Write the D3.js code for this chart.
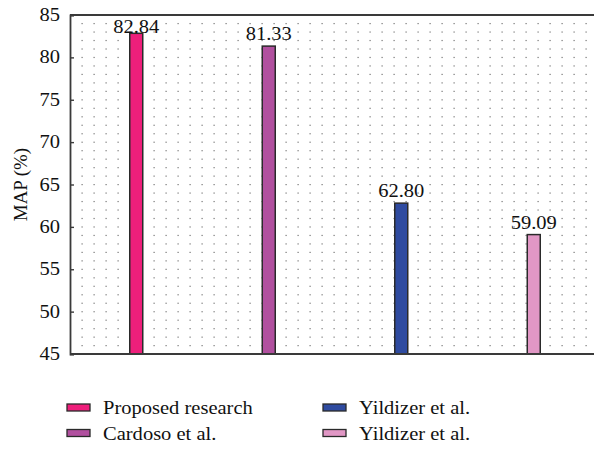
<!DOCTYPE html>
<html>
<head>
<meta charset="utf-8">
<script src="https://cdn.jsdelivr.net/npm/d3@7"></script>
</head>
<body style="margin:0">
<script>
var methods = ["Proposed research", "Cardoso et al.", "Yildizer et al. (1)", "Yildizer et al. (2)"],
    legendLabels = ["Proposed research", "Cardoso et al.", "Yildizer et al.", "Yildizer et al."],
    mapValues = [82.84, 81.33, 62.80, 59.09],
    barColors = ["#ee1f7b", "#b1509f", "#2f4ba0", "#e197c5"],
    yTicks = [45, 50, 55, 60, 65, 70, 75, 80, 85];

var W = 594, H = 449,
    margin = {top: 15, right: -6, bottom: 95, left: 70},
    width = W - margin.left - margin.right,
    height = H - margin.top - margin.bottom,
    FONT = "'Liberation Serif', 'Times New Roman', Tinos, serif",
    fs = 18,
    sx = 1.14;   // the original face is wider than Times

var svg = d3.select("body").append("svg")
    .attr("width", W)
    .attr("height", H)
    .style("font-family", FONT);

var g = svg.append("g")
    .attr("transform", "translate(" + margin.left + "," + margin.top + ")");

var x = d3.scaleBand()
    .domain(methods)
    .range([0, width]);

var y = d3.scaleLinear()
    .domain([45, 85])
    .range([height, 0]);

// helper: text stretched horizontally around its anchor point
function label(sel, px, py, txt, anchor) {
    return sel.append("text")
        .attr("transform", "translate(" + px + "," + py + ") scale(" + sx + ",1)")
        .attr("text-anchor", anchor || "start")
        .style("font-family", FONT)
        .style("font-size", fs + "px")
        .attr("fill", "#111")
        .text(txt);
}

// dotted grid
var dotXs = d3.range(12, width, 12),
    dotYs = d3.range(46, 85, 1);
var dots = g.append("g");
dotYs.forEach(function(v) {
    dots.selectAll(null)
        .data(dotXs)
        .enter()
        .append("rect")
        .attr("x", function(d) { return d - 0.5; })
        .attr("y", y(v) - 0.5)
        .attr("width", 1.2)
        .attr("height", 1.2)
        .attr("fill", "#777");
});

// bars
var barW = 13;
g.selectAll(".bar")
    .data(mapValues)
    .enter()
    .append("rect")
    .attr("x", function(d, i) { return x(methods[i]) + x.bandwidth() / 2 - barW / 2; })
    .attr("y", function(d) { return y(d); })
    .attr("width", barW)
    .attr("height", function(d) { return height - y(d); })
    .attr("fill", function(d, i) { return barColors[i]; })
    .attr("stroke", "#2a2a2a")
    .attr("stroke-width", 1.5);

// value labels (kept inside the frame)
mapValues.forEach(function(d, i) {
    var cx = x(methods[i]) + x.bandwidth() / 2;
    var by = Math.max(y(d) - 6, 17.5);
    label(g, cx, by, d.toFixed(2), "middle");
});

// frame lines (top, bottom)
g.append("line")
    .attr("x1", 0).attr("x2", width)
    .attr("y1", 0).attr("y2", 0)
    .attr("stroke", "#3a3a3a").attr("stroke-width", 1.8);
g.append("line")
    .attr("x1", 0).attr("x2", width)
    .attr("y1", height).attr("y2", height)
    .attr("stroke", "#3a3a3a").attr("stroke-width", 1.8);

// left axis
var yAxis = g.append("g")
    .call(d3.axisLeft(y).tickValues(yTicks).tickSize(-4).tickFormat(""));
yAxis.select(".domain").attr("stroke", "#3a3a3a").attr("stroke-width", 1.8);
yAxis.selectAll(".tick line").attr("stroke", "#3a3a3a").attr("stroke-width", 1.4);
yTicks.forEach(function(t) {
    label(g, -10, y(t), t, "end").attr("dy", "0.34em");
});

label(svg, 0, 0, "MAP (%)", "middle")
    .attr("transform", "translate(27," + (margin.top + height / 2) + ") rotate(-90) scale(1.05,1)");

// legend
var leg = svg.append("g");
var legPos = [[67, 407.5], [67, 433], [323, 407.5], [323, 433]];
legendLabels.forEach(function(lab, i) {
    leg.append("rect")
        .attr("x", legPos[i][0])
        .attr("y", legPos[i][1] - 3.5)
        .attr("width", 23)
        .attr("height", 7)
        .attr("fill", barColors[i])
        .attr("stroke", "#2a2a2a")
        .attr("stroke-width", 1.3);
    label(leg, legPos[i][0] + 36, legPos[i][1] + 6.8, lab, "start");
});
</script>
</body>
</html>
